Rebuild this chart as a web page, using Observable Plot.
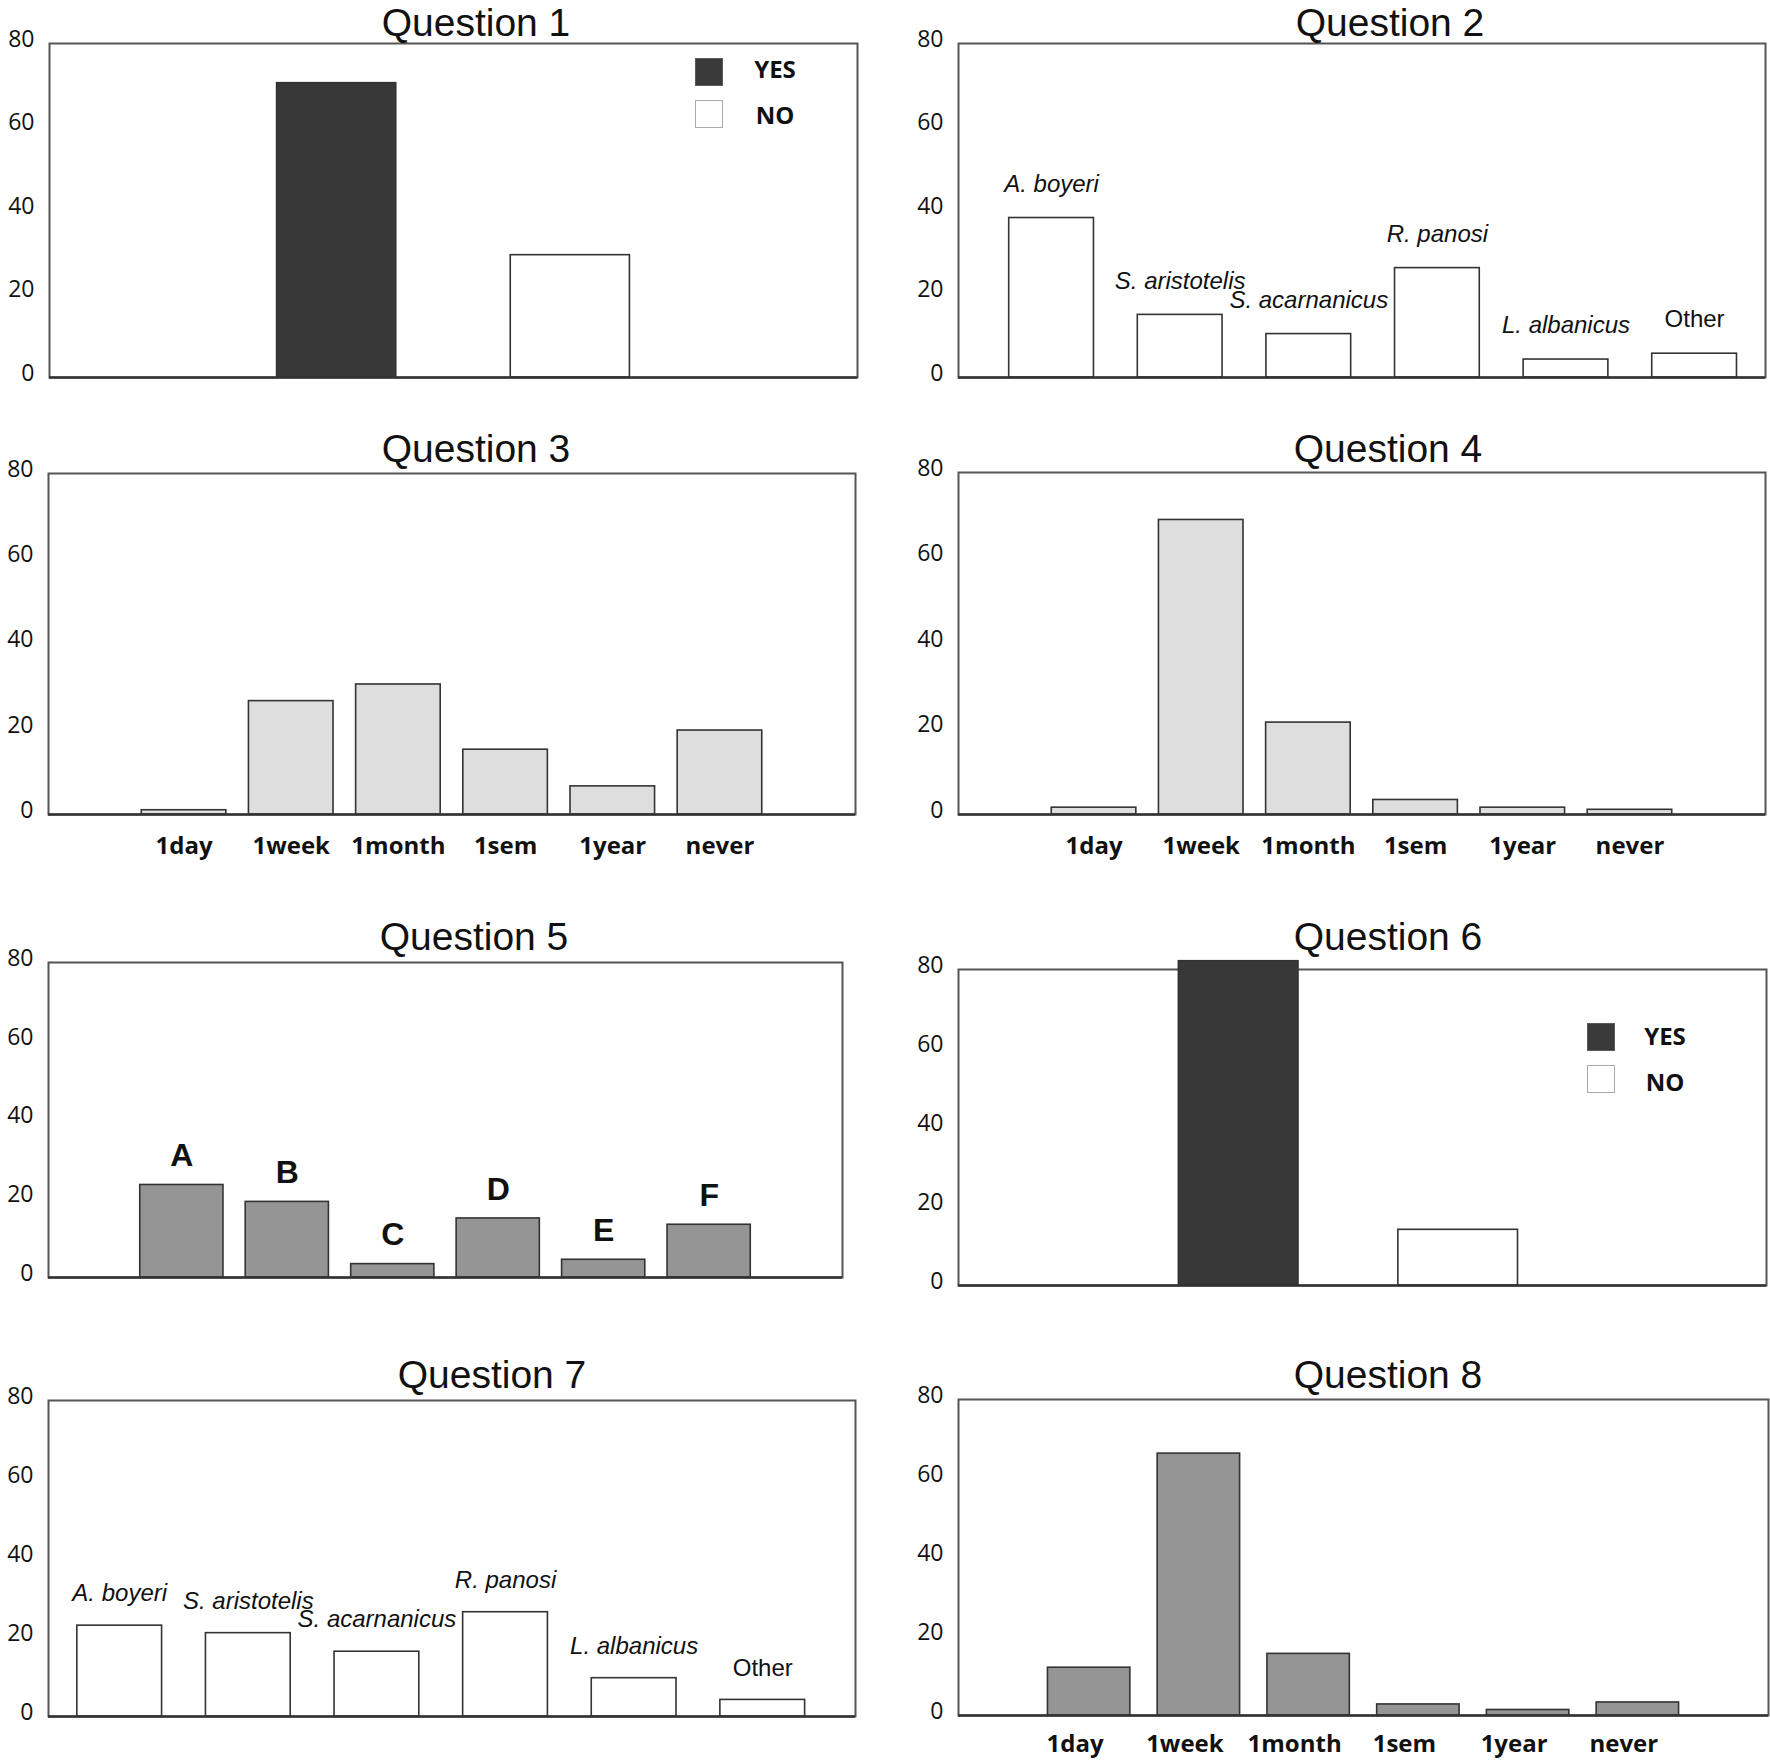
<!DOCTYPE html>
<html>
<head>
<meta charset="utf-8">
<script src="https://cdn.jsdelivr.net/npm/d3@7"></script>
<script src="https://cdn.jsdelivr.net/npm/@observablehq/plot@0.6"></script>
<style>
html, body { margin: 0; padding: 0; background: #fff; }
#page { position: relative; width: 1770px; height: 1762px; overflow: hidden; background: #fff; }
.title { position: absolute; width: 600px; text-align: center; font-family: "Liberation Sans", Arial, sans-serif; font-size: 39px; line-height: 39px; color: #111; white-space: nowrap; }
.panel { position: absolute; }
.panel svg { display: block; overflow: visible; max-width: none; }
.panel svg g[aria-label^="y-axis"] text { font-family: "Open Sans", sans-serif; font-size: 23px; }
.panel svg g[aria-label^="x-axis"] text { font-family: "Open Sans", sans-serif; font-size: 24px; font-weight: 700; }
.sw { position: absolute; width: 28px; height: 28px; box-sizing: border-box; }
.lg { position: absolute; width: 60px; text-align: center; font-family: "Open Sans", sans-serif; font-weight: 700; font-size: 24px; line-height: 24px; color: #111; }
</style>
</head>
<body>
<div id="page"></div>
<script>
// ---------------- data ----------------
const yTicks = [0, 20, 40, 60, 80];
const titles = ["Question 1", "Question 2", "Question 3", "Question 4", "Question 5", "Question 6", "Question 7", "Question 8"];

const yesNo = ["YES", "NO"];
const q1Values = [70.5, 29.3];
const q6Values = [82.1, 14.1];

const species = ["A. boyeri", "S. aristotelis", "S. acarnanicus", "R. panosi", "L. albanicus", "Other"];
const q2Values = [38.2, 15.0, 10.4, 26.2, 4.3, 5.7];
const q7Values = [23.0, 21.1, 16.4, 26.4, 9.7, 4.2];

const periods = ["1day", "1week", "1month", "1sem", "1year", "never"];
const q3Values = [1.0, 26.6, 30.5, 15.2, 6.6, 19.7];
const q4Values = [1.6, 68.9, 21.5, 3.4, 1.6, 1.1];
const q8Values = [12.1, 66.3, 15.6, 2.8, 1.4, 3.3];

const letters = ["A", "B", "C", "D", "E", "F"];
const q5Values = [23.5, 19.2, 3.4, 15.0, 4.5, 13.4];

// ---------------- helpers ----------------
const page = document.getElementById("page");
const hasAxisMarks = typeof Plot.axisY === "function";
const rows = (names, values) => names.map((name, i) => ({name, value: values[i]}));

function addTitle(text, cx, baseline) {
  const d = document.createElement("div");
  d.className = "title";
  d.textContent = text;
  d.style.left = (cx - 300) + "px";
  d.style.top = (baseline - 33) + "px";
  page.appendChild(d);
}

function addLegend(names, swX, swY, textCx, baselines) {
  const styles = [
    {background: "#3a3a3a", border: "1px solid #5a5a5a"},
    {background: "#ffffff", border: "1.5px solid #aaaaaa"}
  ];
  names.forEach((n, i) => {
    const s = document.createElement("div");
    s.className = "sw";
    s.style.left = swX + "px";
    s.style.top = swY[i] + "px";
    Object.assign(s.style, styles[i]);
    page.appendChild(s);
    const t = document.createElement("div");
    t.className = "lg";
    t.textContent = n;
    t.style.left = (textCx - 30) + "px";
    t.style.top = (baselines[i] - 21.3) + "px";
    page.appendChild(t);
  });
}

function panel(cfg) {
  const {L, R, T, B, mT = 14, mB = 60, mL = 62, mR = 4, domain, band, marks, xLabels = false, xdx = 0, xpad = 22, color} = cfg;
  const width = (R - L) + mL + mR;
  const height = (B - T) + mT + mB;
  const axisMarks = [];
  if (hasAxisMarks) {
    axisMarks.push(Plot.axisY(yTicks, {tickSize: 0, tickPadding: 15, dy: -4, fontSize: 23, fontFamily: "Open Sans", label: null}));
    if (xLabels) axisMarks.push(Plot.axisX({tickSize: 0, tickPadding: xpad, dx: xdx, fontSize: 24, fontWeight: "bold", fontFamily: "Open Sans", label: null}));
  }
  const xScale = {type: "band", domain, round: false, ...band, label: null};
  const yScale = {domain: [0, 80], label: null};
  if (!hasAxisMarks) {
    xScale.axis = xLabels ? "bottom" : null;
    xScale.tickSize = 0; xScale.tickPadding = xpad;
    yScale.ticks = 4; yScale.tickSize = 0; yScale.tickPadding = 15;
  } else if (!xLabels) {
    xScale.axis = null;
  }
  const opts = {
    width, height,
    marginLeft: mL, marginRight: mR, marginTop: mT, marginBottom: mB,
    x: xScale,
    y: yScale,
    style: {background: "transparent", overflow: "visible", maxWidth: "none", color: "#111", fontFamily: "Open Sans", fontSize: "23px"},
    marks: [
      Plot.frame({stroke: "#555", strokeWidth: 2}),
      ...marks,
      Plot.ruleY([0], {stroke: "#333", strokeWidth: 2.5}),
      ...axisMarks
    ]
  };
  if (color) opts.color = color;
  const chart = Plot.plot(opts);
  const d = document.createElement("div");
  d.className = "panel";
  d.style.left = (L - mL) + "px";
  d.style.top = (T - mT) + "px";
  d.style.width = width + "px";
  d.style.height = height + "px";
  d.appendChild(chart);
  page.appendChild(d);
}

const barStroke = {stroke: "#333", strokeWidth: 1.6};
const speciesBand = {paddingInner: 0.341, paddingOuter: 0.308};
const periodBand = {paddingInner: 0.211, paddingOuter: 0.87, align: 0.5};

function speciesMarks(data, dy) {
  return [
    Plot.barY(data, {x: "name", y: "value", fill: "#fff", ...barStroke}),
    Plot.text(data, {filter: d => d.name !== "Other", x: "name", y: "value", text: "name", dy, fontStyle: "italic", fontFamily: "Liberation Sans", fontSize: 24, fill: "#111"}),
    Plot.text(data, {filter: d => d.name === "Other", x: "name", y: "value", text: "name", dy, fontFamily: "Liberation Sans", fontSize: 24, fill: "#111"})
  ];
}

// ---------------- Question 1 ----------------
panel({
  L: 49, R: 857, T: 43, B: 377,
  domain: yesNo, band: {paddingInner: 0.49, paddingOuter: 0.974, align: 0.5},
  color: {domain: yesNo, range: ["#383838", "#ffffff"]},
  marks: [Plot.barY(rows(yesNo, q1Values), {x: "name", y: "value", fill: "name", ...barStroke})]
});
addTitle(titles[0], 476, 36);
addLegend(yesNo, 695, [58, 100], 775, [78.3, 124]);

// ---------------- Question 2 ----------------
panel({
  L: 958, R: 1765, T: 43, B: 377,
  domain: species, band: {...speciesBand, align: 0.64},
  marks: speciesMarks(rows(species, q2Values), -34)
});
addTitle(titles[1], 1390, 36);

// ---------------- Question 3 ----------------
panel({
  L: 48, R: 855, T: 473, B: 814,
  domain: periods, band: periodBand, xLabels: true,
  marks: [Plot.barY(rows(periods, q3Values), {x: "name", y: "value", fill: "#dedede", ...barStroke})]
});
addTitle(titles[2], 476, 462);

// ---------------- Question 4 ----------------
panel({
  L: 958, R: 1765, T: 472, B: 814,
  domain: periods, band: periodBand, xLabels: true,
  marks: [Plot.barY(rows(periods, q4Values), {x: "name", y: "value", fill: "#dedede", ...barStroke})]
});
addTitle(titles[3], 1388, 462);

// ---------------- Question 5 ----------------
const q5 = rows(letters, q5Values);
panel({
  L: 48, R: 842, T: 962, B: 1277,
  domain: letters, band: periodBand,
  marks: [
    Plot.barY(q5, {x: "name", y: "value", fill: "#959595", ...barStroke}),
    Plot.text(q5, {x: "name", y: "value", text: "name", dy: -29, fontWeight: "bold", fontFamily: "Liberation Sans", fontSize: 32, fill: "#111"})
  ]
});
addTitle(titles[4], 474, 950);

// ---------------- Question 6 ----------------
panel({
  L: 958, R: 1766, T: 969, B: 1285, mT: 20,
  domain: yesNo, band: {paddingInner: 0.455, paddingOuter: 1.068, align: 0.47},
  color: {domain: yesNo, range: ["#383838", "#ffffff"]},
  marks: [Plot.barY(rows(yesNo, q6Values), {x: "name", y: "value", fill: "name", ...barStroke})]
});
addTitle(titles[5], 1388, 950);
addLegend(yesNo, 1587, [1023, 1065], 1665, [1045, 1091.7]);

// ---------------- Question 7 ----------------
panel({
  L: 48, R: 855, T: 1400, B: 1716,
  domain: species, band: {...speciesBand, align: 0.364},
  marks: speciesMarks(rows(species, q7Values), -32)
});
addTitle(titles[6], 492, 1388);

// ---------------- Question 8 ----------------
panel({
  L: 958, R: 1768, T: 1399, B: 1715, mR: 2, mB: 47,
  domain: periods, band: {paddingInner: 0.249, paddingOuter: 0.815, align: 0.5}, xLabels: true, xdx: -14, xpad: 19,
  marks: [Plot.barY(rows(periods, q8Values), {x: "name", y: "value", fill: "#959595", ...barStroke})]
});
addTitle(titles[7], 1388, 1388);
</script>
</body>
</html>
